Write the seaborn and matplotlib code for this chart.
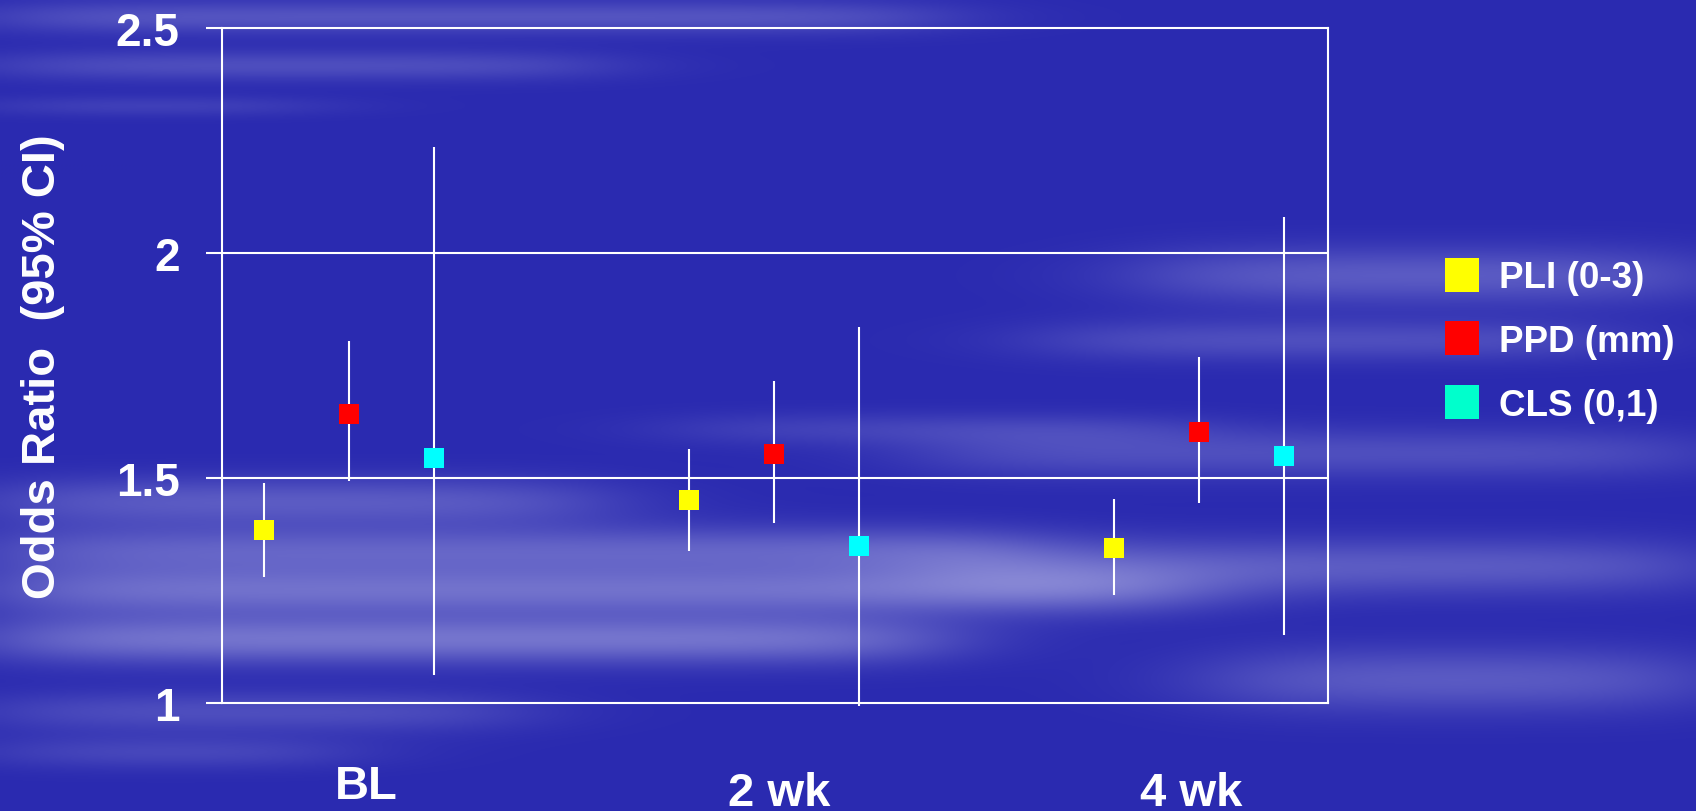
import numpy as np
import pandas as pd
import matplotlib
matplotlib.use("Agg")
import matplotlib.pyplot as plt
import matplotlib.transforms as mtransforms
from matplotlib.lines import Line2D
import seaborn as sns

# values
periods = ["BL", "2 wk", "4 wk"]
measures = ["PLI (0-3)", "PPD (mm)", "CLS (0,1)"]
pli_or = [1.385, 1.452, 1.345]
pli_lo = [1.281, 1.338, 1.241]
pli_hi = [1.489, 1.564, 1.453]
ppd_or = [1.643, 1.553, 1.602]
ppd_lo = [1.494, 1.401, 1.445]
ppd_hi = [1.804, 1.716, 1.769]
cls_or = [1.545, 1.349, 1.549]
cls_lo = [1.063, 0.993, 1.152]
cls_hi = [2.236, 1.836, 2.080]
y_ticks = [1, 1.5, 2, 2.5]
y_tick_labels = ["1", "1.5", "2", "2.5"]

point_colors = {"PLI (0-3)": "#ffff00", "PPD (mm)": "#ff0000", "CLS (0,1)": "#00ffff"}
legend_colors = {"PLI (0-3)": "#ffff00", "PPD (mm)": "#ff0000", "CLS (0,1)": "#00ffcc"}
offsets = {"PLI (0-3)": -0.2, "PPD (mm)": 0.0, "CLS (0,1)": 0.2}

rows = []
for name, ors, los, his in [
    ("PLI (0-3)", pli_or, pli_lo, pli_hi),
    ("PPD (mm)", ppd_or, ppd_lo, ppd_hi),
    ("CLS (0,1)", cls_or, cls_lo, cls_hi),
]:
    for i, period in enumerate(periods):
        rows.append({"period": period, "measure": name, "x": i + offsets[name],
                     "odds": ors[i], "lo": los[i], "hi": his[i]})
df = pd.DataFrame(rows)

sns.set_style("white")
plt.rcParams["font.family"] = ["Liberation Sans", "DejaVu Sans"]
plt.rcParams["font.weight"] = "bold"

fig = plt.figure(figsize=(16.96, 8.12), dpi=100)

# sky-like backdrop: blue with soft pale streaks
H, W = 203, 424
yy, xx = np.mgrid[0:1:H * 1j, 0:1:W * 1j]
base = np.array([42, 42, 176]) / 255.0
light = np.array([165, 165, 225]) / 255.0
streaks = [
    (0.02, 0.00, 0.55, 0.020, 0.35), (0.08, 0.00, 0.35, 0.018, 0.30),
    (0.13, 0.00, 0.18, 0.012, 0.20), (0.34, 0.68, 1.00, 0.035, 0.40),
    (0.42, 0.62, 0.95, 0.025, 0.30), (0.53, 0.40, 0.70, 0.020, 0.20),
    (0.56, 0.55, 1.00, 0.030, 0.30), (0.62, 0.00, 0.35, 0.030, 0.40),
    (0.68, 0.00, 0.60, 0.030, 0.45), (0.73, 0.00, 0.70, 0.030, 0.55),
    (0.79, 0.00, 0.55, 0.030, 0.60), (0.70, 0.55, 1.00, 0.035, 0.40),
    (0.84, 0.72, 1.00, 0.040, 0.40), (0.88, 0.00, 0.30, 0.025, 0.30),
    (0.93, 0.00, 0.20, 0.020, 0.25),
]
mix = np.zeros((H, W))
for yc, x0, x1, h, a in streaks:
    across = np.exp(-((yy - yc) / h) ** 2)
    along = 0.25 * (1 + np.tanh((xx - x0) / 0.06)) * (1 + np.tanh((x1 - xx) / 0.06))
    mix += a * across * along
mix = np.clip(mix, 0, 0.85)
img = base[None, None, :] * (1 - mix[..., None]) + light[None, None, :] * mix[..., None]
bg = fig.add_axes([0, 0, 1, 1], zorder=0)
bg.imshow(img, aspect="auto", extent=[0, 1, 0, 1], interpolation="bicubic")
bg.axis("off")

ax = fig.add_axes([0.1309, 0.1330, 0.6521, 0.8313], zorder=1)
ax.patch.set_alpha(0)

for _, r in df.iterrows():
    ax.vlines(r["x"], r["lo"], r["hi"], color="white", lw=1.5, zorder=2, clip_on=False)

sns.scatterplot(data=df, x="x", y="odds", hue="measure", palette=point_colors,
                marker="s", s=207, linewidth=0, legend=False, ax=ax, zorder=3)

ax.set_xlim(-0.299, 2.304)
ax.set_ylim(1, 2.5)
ax.set_yticks(y_ticks)
ax.set_yticklabels(y_tick_labels)
ax.set_xticks([])
for y in y_ticks[1:-1]:
    ax.axhline(y, color="white", lw=1.5, zorder=1)
for s in ax.spines.values():
    s.set_color("white")
    s.set_linewidth(1.5)
ax.tick_params(axis="y", left=True, colors="white", length=11.5, width=1.5, pad=19,
               labelsize=33, direction="out")
for lab in ax.get_yticklabels():
    lab.set_fontweight("bold")

ax.set_xlabel("")
ax.set_ylabel("Odds Ratio  (95% CI)", color="white", fontsize=34,
              fontweight="bold", va="center")
ax.yaxis.set_label_coords(-0.1615, 0.5)

# period labels sit slightly off the group centres on the slide
label_x = [0.04, 1.012, 1.981]
label_y = [-0.1407, -0.1511, -0.1511]
trans = mtransforms.blended_transform_factory(ax.transData, ax.transAxes)
for i, period in enumerate(periods):
    ax.text(label_x[i], label_y[i], period, transform=trans, ha="center",
            va="baseline", color="white", fontsize=34, fontweight="bold")

handles = [Line2D([], [], marker="s", ls="none", markersize=24.5,
                  markerfacecolor=legend_colors[m], markeredgewidth=0)
           for m in measures]
leg = fig.legend(handles, measures, loc="center left", bbox_to_anchor=(0.8514, 0.578),
                 frameon=False, fontsize=26.5, handlelength=1.0, handletextpad=0.5,
                 labelspacing=0.78, borderpad=0, borderaxespad=0)
for t in leg.get_texts():
    t.set_color("white")
    t.set_fontweight("bold")

fig.savefig("out.png", dpi=100)
